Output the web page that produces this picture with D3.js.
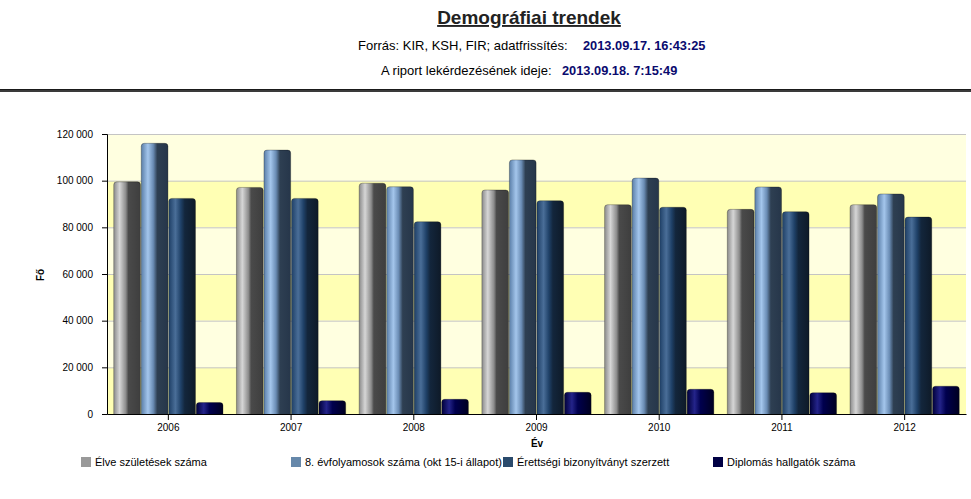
<!DOCTYPE html>
<html><head><meta charset="utf-8">
<script src="https://cdn.jsdelivr.net/npm/d3@7/dist/d3.min.js"></script>
<style>
body{margin:0;background:#fff;font-family:Arial,"Liberation Sans",sans-serif;}
svg{display:block}
</style></head>
<body>
<svg id="c" width="971" height="499"></svg>
<script>
const years = ["2006","2007","2008","2009","2010","2011","2012"];
const seriesNames = ["Élve születések száma","8. évfolyamosok száma (okt 15-i állapot)","Érettségi bizonyítványt szerzett","Diplomás hallgatók száma"];
const elveSzuletesek = [99500, 97100, 98900, 96000, 89700, 87700, 89700];
const evfolyam8 = [116000, 113100, 97400, 108900, 101100, 97300, 94300];
const erettsegi = [92400, 92400, 82400, 91400, 88600, 86700, 84400];
const diplomas = [4900, 5700, 6300, 9300, 10600, 9100, 11900];
const yTicks = [0, 20000, 40000, 60000, 80000, 100000, 120000];
const seriesValues = [elveSzuletesek, evfolyam8, erettsegi, diplomas];

(function(){
const svg = d3.select("#c");
const W = 971;
const legendColors = ["#999999","#6688aa","#2a4a6c","#000044"];
const grads = [
  [[0,"#8a8a8a"],[0.22,"#d6d6d6"],[0.45,"#8c8c8c"],[0.55,"#4a4a4a"],[1,"#3e3e3e"]],
  [[0,"#5a7ea8"],[0.25,"#a4c6ec"],[0.45,"#6a8cb4"],[0.6,"#2e3f52"],[1,"#26364a"]],
  [[0,"#1e3f66"],[0.25,"#4a6e98"],[0.45,"#1f4168"],[0.6,"#13263c"],[1,"#0e1a28"]],
  [[0,"#00003a"],[0.28,"#24248a"],[0.5,"#00004e"],[1,"#000020"]]
];
const defs = svg.append("defs");
grads.forEach((g,i)=>{
  const lg = defs.append("linearGradient").attr("id","g"+i).attr("x1","0").attr("x2","1").attr("y1","0").attr("y2","0");
  g.forEach(s=>lg.append("stop").attr("offset",s[0]).attr("stop-color",s[1]));
});

// Header
svg.append("text").attr("x",529).attr("y",24).attr("text-anchor","middle")
  .attr("font-size",19).attr("font-weight","bold").attr("fill","#222")
  .attr("text-decoration","underline").text("Demográfiai trendek");
svg.append("text").attr("x",358).attr("y",50).attr("font-size",13).attr("fill","#000")
  .text("Forrás: KIR, KSH, FIR; adatfrissítés:");
svg.append("text").attr("x",583).attr("y",50).attr("font-size",12.8).attr("font-weight","bold").attr("fill","#0a0a6e")
  .text("2013.09.17. 16:43:25");
svg.append("text").attr("x",381).attr("y",75).attr("font-size",13).attr("fill","#000")
  .text("A riport lekérdezésének ideje:");
svg.append("text").attr("x",562).attr("y",75).attr("font-size",12.8).attr("font-weight","bold").attr("fill","#0a0a6e")
  .text("2013.09.18. 7:15:49");
svg.append("rect").attr("x",0).attr("y",89).attr("width",W).attr("height",3).attr("fill","#3a3a3a");
svg.append("rect").attr("x",0).attr("y",89).attr("width",W).attr("height",1).attr("fill","#1a1a1a");

// Chart
const pl = 107, pr = 966, pt = 134, pb = 414;
const x = d3.scaleBand().domain(years).range([pl,pr]).paddingInner(0).paddingOuter(0);
const y = d3.scaleLinear().domain([0,120000]).range([pb,pt]);
const xs = d3.scaleBand().domain(d3.range(4)).range([0,x.bandwidth()]).paddingOuter(0.23).paddingInner(0);

// stripes
for(let i=0;i<yTicks.length-1;i++){
  svg.append("rect").attr("x",pl).attr("width",pr-pl)
    .attr("y",y(yTicks[i+1])).attr("height",y(yTicks[i])-y(yTicks[i+1]))
    .attr("fill", i%2===0 ? "#ffffb4" : "#ffffe0");
}
// gridlines
svg.append("g").selectAll("line").data(yTicks.slice(1)).join("line")
  .attr("x1",pl).attr("x2",pr).attr("y1",d=>y(d)+0.5).attr("y2",d=>y(d)+0.5)
  .attr("stroke","#c4c4c4").attr("stroke-width",1);

// bars
seriesValues.forEach((vals,si)=>{
  const g = svg.append("g");
  g.selectAll("rect").data(vals).join("rect")
    .attr("x",(d,i)=>x(years[i])+xs(si)+0.4)
    .attr("width",xs.bandwidth()-0.8)
    .attr("y",d=>y(d))
    .attr("height",d=>pb-y(d)+3)
    .attr("rx",3).attr("ry",3)
    .attr("fill","url(#g"+si+")")
    .attr("stroke","rgba(0,0,0,0.35)").attr("stroke-width",0.8);
});
// cover bottom rounding
svg.append("rect").attr("x",pl-2).attr("y",pb+1).attr("width",pr-pl+6).attr("height",6).attr("fill","#fff");

// axes
const fmt = d => d3.format(",")(d).replace(/,/g," ");
const yAxis = svg.append("g").attr("transform",`translate(${pl},0)`)
  .call(d3.axisLeft(y).tickValues(yTicks).tickFormat(fmt).tickSize(5).tickPadding(9));
yAxis.select(".domain").attr("stroke","#000");
yAxis.selectAll("text").attr("font-size",10).attr("font-family","Arial, Liberation Sans").attr("fill","#000");
const xAxis = svg.append("g").attr("transform",`translate(0,${pb})`)
  .call(d3.axisBottom(x).tickSize(6).tickSizeOuter(0).tickPadding(4));
xAxis.select(".domain").attr("stroke","#000").attr("stroke-width",1.2);
xAxis.selectAll("text").attr("font-size",10).attr("font-family","Arial, Liberation Sans").attr("fill","#000");

svg.append("text").attr("transform","translate(44,275) rotate(-90)").attr("text-anchor","middle")
  .attr("font-size",10).attr("font-weight","bold").text("Fő");
svg.append("text").attr("x",537).attr("y",447).attr("text-anchor","middle")
  .attr("font-size",10).attr("font-weight","bold").text("Év");

// legend
const legX = [81,291,503,713];
seriesNames.forEach((n,i)=>{
  svg.append("rect").attr("x",legX[i]).attr("y",457).attr("width",10).attr("height",10).attr("fill",legendColors[i]);
  svg.append("text").attr("x",legX[i]+14).attr("y",466).attr("font-size",11).attr("fill","#000").text(n);
});
})();
</script>
</body></html>
